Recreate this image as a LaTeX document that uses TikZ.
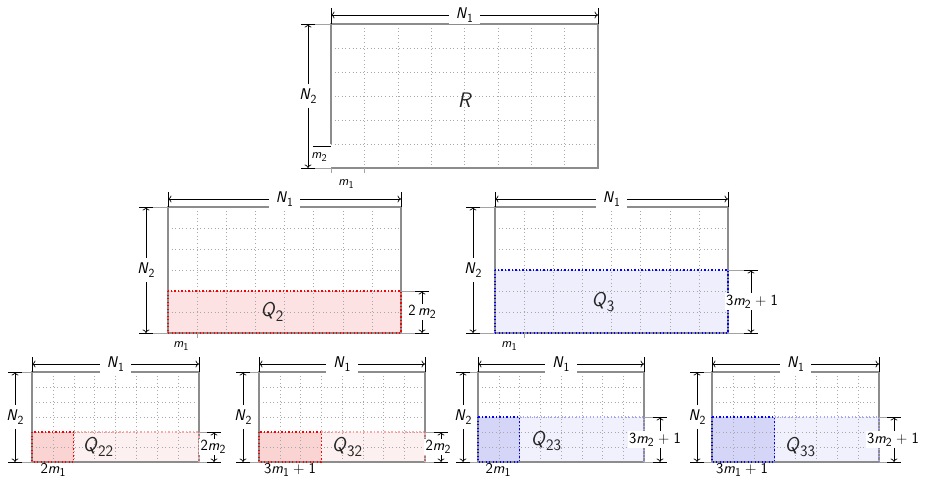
\documentclass[tikz,border=0pt]{standalone}
\usepackage{graphicx}
\usetikzlibrary{arrows.meta}
\definecolor{gridc}{HTML}{A8A8A8}
\definecolor{borderc}{HTML}{8C8C8C}
\definecolor{pinkA}{HTML}{FCE2E2}
\definecolor{pinkB}{HTML}{FDF0F0}
\definecolor{pinkC}{HTML}{FAD3D3}
\definecolor{lavA}{HTML}{EEEEFC}
\definecolor{lavB}{HTML}{F1F1FD}
\definecolor{lavC}{HTML}{D5D5F8}
\newcommand\vv[2]{\textit{#1}\raisebox{-0.5ex}{\scalebox{0.8}{#2}}}
\tikzset{
 gridline/.style={gridc, line width=0.5pt, dash pattern=on 0.6pt off 3pt},
 frame/.style={borderc, line width=1.7pt},
 dimline/.style={line width=0.7pt, {To[length=3.5pt,width=7pt]}-{To[length=3.5pt,width=7pt]}},
 tickline/.style={line width=0.7pt},
 extline/.style={borderc!80, line width=0.8pt},
 reddot/.style={red, line width=1.3pt, dash pattern=on 1.3pt off 2.2pt},
 bluedot/.style={blue, line width=1.3pt, dash pattern=on 1.3pt off 2.2pt},
 dimlabel/.style={fill=white, inner sep=3pt, font=\sffamily\fontsize{15.5}{17}\selectfont},
 mlabel/.style={inner sep=1pt, font=\sffamily\fontsize{15}{17}\selectfont},
 smlabel/.style={inner sep=1pt, font=\sffamily\fontsize{13}{15}\selectfont},
 qlabel/.style={inner sep=0pt, text=black!85, font=\sffamily\fontsize{20}{22}\selectfont},
}
% #1 x0, #2 x1, #3 y of dim, #4 panel top, #5 name
\newcommand\topdim[5]{%
 \draw[tickline] (#1,#3-7) -- (#1,#4);
 \draw[tickline] (#2,#3-7) -- (#2,#4);
 \draw[dimline] (#1,#3) -- (#2,#3);
 \node[dimlabel, inner xsep=7pt, inner ysep=2pt] (#5) at ({(#1+#2)/2},#3) {\vv{N}{1}};}
% #1 x of dim, #2 y0, #3 y1, #4 panel left, #5 name
\newcommand\leftdim[5]{%
 \draw[extline] (#1,#2) -- (#4,#2);
 \draw[extline] (#1,#3) -- (#4,#3);
 \draw[tickline] (#1-7,#2) -- (#1+7,#2);
 \draw[tickline] (#1-7,#3) -- (#1+7,#3);
 \draw[dimline] (#1,#2) -- (#1,#3);
 \node[dimlabel, inner ysep=5pt, inner xsep=1pt] (#5) at (#1,{(#2+#3)/2}) {\vv{N}{2}};}
% #1 x of dim, #2 y0, #3 y1, #4 panel right, #5 name, #6 text, #7 label x
\newcommand\rightdim[7]{%
 \draw[extline] (#4,#2) -- (#1+7,#2);
 \draw[extline] (#4,#3) -- (#1+7,#3);
 \draw[tickline] (#1-7,#2) -- (#1+7,#2);
 \draw[tickline] (#1-7,#3) -- (#1+7,#3);
 \draw[dimline] (#1,#2) -- (#1,#3);
 \node[dimlabel, inner sep=1.5pt] (#5) at (#7,{(#2+#3)/2}) {#6};}
\newcommand\gridcells{%
 \foreach \i in {1,...,7} \draw[gridline] (\i,0) -- (\i,6);
 \foreach \j in {1,...,5} \draw[gridline] (0,\j) -- (8,\j);}
\begin{document}
\begin{tikzpicture}[x=1pt,y=-1pt]
\useasboundingbox[fill=white] (0,0) rectangle (928,478);

% ---------- R ----------
\begin{scope}[shift={(331,24)}, xscale=33.375, yscale=24]
 \gridcells
 \draw[frame] (0,5) -- (0,0) -- (8,0) -- (8,6) -- (0,6);
\end{scope}
\draw[extline] (331,168) -- (331,173);
\draw[extline] (364.4,168) -- (364.4,173);
\draw[tickline] (313,146) -- (331,146);
\topdim{331}{598}{15}{24}{rn1}
\leftdim{308}{24}{168}{331}{rn2}
\node[smlabel] (rm2) at (319,157) {\vv{m}{2}};
\node[smlabel] (rm1) at (346,184) {\vv{m}{1}};
\node[qlabel, font=\sffamily\fontsize{21}{23}\selectfont] (rl) at (465,100) {\textit{R}};

% ---------- Q2 ----------
\begin{scope}[shift={(168,207)}, xscale=29.125, yscale=21]
 \fill[pinkA] (0,4) rectangle (8,6);
 \gridcells
 \draw[frame] (0,0) rectangle (8,6);
 \draw[reddot] (0,4) rectangle (8,6);
\end{scope}
\draw[extline] (197.1,333) -- (197.1,338);
\topdim{168}{401}{199}{207}{q2n1}
\leftdim{146}{207}{333}{168}{q2n2}
\rightdim{422}{291}{333}{401}{q2m}{2\,\vv{m}{2}}{422}
\node[qlabel] (q2l) at (272,312) {\vv{Q}{2}};
\node[smlabel] (q2m1) at (181,346) {\vv{m}{1}};

% ---------- Q3 ----------
\begin{scope}[shift={(495,207)}, xscale=29.125, yscale=21]
 \fill[lavA] (0,3) rectangle (8,6);
 \gridcells
 \draw[frame] (0,0) rectangle (8,6);
 \draw[bluedot] (0,3) rectangle (8,6);
\end{scope}
\draw[extline] (524.1,333) -- (524.1,338);
\topdim{495}{728}{199}{207}{q3n1}
\leftdim{473}{207}{333}{495}{q3n2}
\rightdim{751}{270}{333}{728}{q3m}{3\vv{m}{2}\;+\;1}{752}
\node[qlabel] (q3l) at (603,302) {\vv{Q}{3}};
\node[smlabel] (q3m1) at (509,346) {\vv{m}{1}};

% ---------- Q22 ----------
\begin{scope}[shift={(32,372)}, xscale=20.875, yscale=15]
 \fill[pinkB] (0,4) rectangle (8,6);
 \fill[pinkC] (0,4) rectangle (2,6);
 \gridcells
 \draw[frame] (0,0) rectangle (8,6);
 \draw[reddot, red!35] (2,4) -- (8,4) -- (8,6);
 \draw[reddot] (0,4) rectangle (2,6);
\end{scope}
\topdim{32}{199}{364}{372}{q22n1}
\leftdim{15}{372}{462}{32}{q22n2}
\rightdim{214}{432}{462}{199}{q22m}{2\vv{m}{2}}{213}
\node[qlabel] (q22l) at (98,447) {\vv{Q}{22}};
\node[mlabel] (q22b) at (53,470) {2\vv{m}{1}};

% ---------- Q32 ----------
\begin{scope}[shift={(259,372)}, xscale=20.75, yscale=15]
 \fill[pinkB] (0,4) rectangle (8,6);
 \fill[pinkC] (0,4) rectangle (3,6);
 \gridcells
 \draw[frame] (0,0) rectangle (8,6);
 \draw[reddot, red!35] (3,4) -- (8,4) -- (8,6);
 \draw[reddot] (0,4) rectangle (3,6);
\end{scope}
\topdim{259}{425}{364}{372}{q32n1}
\leftdim{243}{372}{462}{259}{q32n2}
\rightdim{441}{432}{462}{425}{q32m}{2\vv{m}{2}}{438}
\node[qlabel] (q32l) at (347,447) {\vv{Q}{32}};
\node[mlabel] (q32b) at (290,470) {3\vv{m}{1}\;+\;1};

% ---------- Q23 ----------
\begin{scope}[shift={(478,372)}, xscale=20.75, yscale=15]
 \fill[lavB] (0,3) rectangle (8,6);
 \fill[lavC] (0,3) rectangle (2,6);
 \gridcells
 \draw[frame] (0,0) rectangle (8,6);
 \draw[bluedot, blue!35] (2,3) -- (8,3) -- (8,6);
 \draw[bluedot] (0,3) rectangle (2,6);
\end{scope}
\topdim{478}{644}{364}{372}{q23n1}
\leftdim{463}{372}{462}{478}{q23n2}
\rightdim{660}{417}{462}{644}{q23m}{3\vv{m}{2}\;+\;1}{655}
\node[qlabel] (q23l) at (546,441) {\vv{Q}{23}};
\node[mlabel] (q23b) at (498,470) {2\vv{m}{1}};

% ---------- Q33 ----------
\begin{scope}[shift={(712,372)}, xscale=20.875, yscale=15]
 \fill[lavB] (0,3) rectangle (8,6);
 \fill[lavC] (0,3) rectangle (3,6);
 \gridcells
 \draw[frame] (0,0) rectangle (8,6);
 \draw[bluedot, blue!35] (3,3) -- (8,3) -- (8,6);
 \draw[bluedot] (0,3) rectangle (3,6);
\end{scope}
\topdim{712}{879}{364}{372}{q33n1}
\leftdim{697}{372}{462}{712}{q33n2}
\rightdim{894}{417}{462}{879}{q33m}{3\vv{m}{2}\;+\;1}{893}
\node[qlabel] (q33l) at (800,447) {\vv{Q}{33}};
\node[mlabel] (q33b) at (742,470) {3\vv{m}{1}\;+\;1};
\end{tikzpicture}
\end{document}
